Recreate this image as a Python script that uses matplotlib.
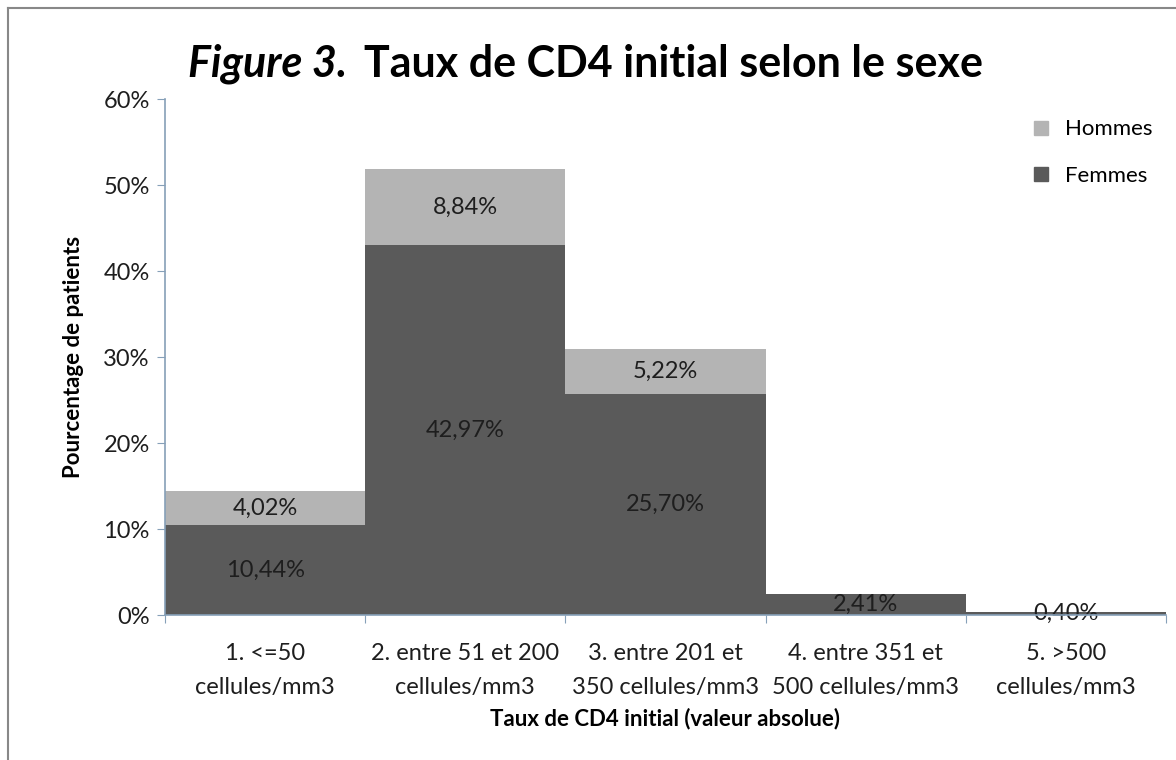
import numpy as np
import matplotlib
matplotlib.use('Agg')
import matplotlib.pyplot as plt
from matplotlib.lines import Line2D

# données
categories = ['1. <=50\ncellules/mm3', '2. entre 51 et 200\ncellules/mm3',
              '3. entre 201 et\n350 cellules/mm3', '4. entre 351 et\n500 cellules/mm3',
              '5. >500\ncellules/mm3']
femmes = [10.44, 42.97, 25.70, 2.41, 0.40]
hommes = [4.02, 8.84, 5.22, 0.0, 0.0]
yticks = [0, 10, 20, 30, 40, 50, 60]

plt.rcParams['font.family'] = ['Lato', 'DejaVu Sans']

W, H = 1176, 760
fig = plt.figure(figsize=(W / 100, H / 100), dpi=100)
ax = fig.add_axes([165 / W, 1 - 615 / H, 1001 / W, 516 / H])

x = np.arange(len(categories))
c_f = '#5a5a5a'
c_h = '#b4b4b4'
c_ax = '#86a0b8'
c_txt = '#1e1e1e'
ax.bar(x, femmes, width=1.0, color=c_f, label='Femmes', zorder=2)
ax.bar(x, hommes, width=1.0, bottom=femmes, color=c_h, label='Hommes', zorder=2)

fmt = lambda v: f'{v:.2f}%'.replace('.', ',')
for i in range(len(x)):
    ax.text(x[i], femmes[i] / 2, fmt(femmes[i]), ha='center', va='center',
            fontsize=17, color=c_txt, zorder=3)
    if hommes[i] > 0:
        ax.text(x[i], femmes[i] + hommes[i] / 2, fmt(hommes[i]), ha='center',
                va='center', fontsize=17, color=c_txt, zorder=3)

ax.set_xlim(-0.5, len(x) - 0.5)
ax.set_ylim(0, 60)
ax.set_yticks(yticks)
ax.set_yticklabels([f'{t}%' for t in yticks], fontsize=17, color=c_txt)
ax.set_xticks(np.arange(-0.5, len(x)))
ax.set_xticklabels([''] * (len(x) + 1))
ax.set_xticks(x, minor=True)
ax.set_xticklabels(categories, minor=True, fontsize=17, color=c_txt,
                   linespacing=1.75)
ax.tick_params(axis='x', which='minor', length=0, pad=20)
ax.tick_params(axis='x', which='major', length=6, color=c_ax, direction='out')
ax.tick_params(axis='y', length=6, color=c_ax, pad=5)

for s in ['top', 'right']:
    ax.spines[s].set_visible(False)
for s in ['left', 'bottom']:
    ax.spines[s].set_color(c_ax)
    ax.spines[s].set_linewidth(1.2)
    ax.spines[s].set_zorder(4)

ax.set_ylabel('Pourcentage de patients', fontsize=16, fontweight='bold')
ax.yaxis.set_label_coords(-(165 - 84) / 1001, 0.5)
ax.set_xlabel('Taux de CD4 initial (valeur absolue)', fontsize=16,
              fontweight='bold')
ax.xaxis.set_label_coords(0.5, -(708 - 615) / 516)

handles = [Line2D([], [], marker='s', linestyle='', color=c_h, markersize=10),
           Line2D([], [], marker='s', linestyle='', color=c_f, markersize=10)]
ax.legend(handles, ['Hommes', 'Femmes'], loc='upper right', frameon=False,
          fontsize=16, handletextpad=0.1, labelspacing=1.2, borderaxespad=0.2,
          bbox_to_anchor=(1.0, 1 - (106 - 99) / 516))

# titre
fig.text(188 / W, 1 - 77 / H, 'Figure 3.', fontsize=31, fontweight='bold',
         style='italic', ha='left', va='baseline')
fig.text(364 / W, 1 - 77 / H, 'Taux de CD4 initial selon le sexe', fontsize=31,
         fontweight='bold', ha='left', va='baseline')

# cadre
fig.add_artist(Line2D([8 / W, 8 / W], [0, 1 - 8 / H], color='#888888',
                      linewidth=1.5, transform=fig.transFigure))
fig.add_artist(Line2D([8 / W, 1], [1 - 8 / H, 1 - 8 / H], color='#888888',
                      linewidth=1.5, transform=fig.transFigure))

fig.savefig('out.png', dpi=100)
